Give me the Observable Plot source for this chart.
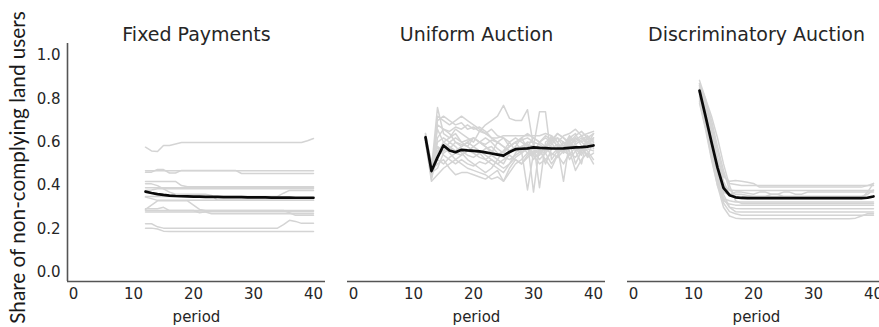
<!DOCTYPE html>
<html>
<head>
<meta charset="utf-8">
<script src="https://cdn.jsdelivr.net/npm/d3@7"></script>
<script src="https://cdn.jsdelivr.net/npm/@observablehq/plot@0.6"></script>
<style>
  body { margin: 0; background: #fff; overflow: hidden; }
  #chart { position: relative; width: 879px; height: 327px; overflow: hidden; background: #fff; }
  #chart svg { position: absolute; top: 0; }
</style>
</head>
<body>
<div id="chart"></div>
<script>
// ---------- data ----------
const panelTitles = ["Fixed Payments", "Uniform Auction", "Discriminatory Auction"];
const xTicks = [0, 10, 20, 30, 40];
const yTicks = [0, 0.2, 0.4, 0.6, 0.8, 1.0];
const xLabel = "period";
const yLabel = "Share of non-complying land users";

const periodsFU = [12,13,14,15,16,17,18,19,20,21,22,23,24,25,26,27,28,29,30,31,32,33,34,35,36,37,38,39,40];
const periodsD  = [11,12,13,14,15,16,17,18,19,20,21,22,23,24,25,26,27,28,29,30,31,32,33,34,35,36,37,38,39,40];

// Fixed Payments: individual runs
const fixedRuns = [
  [.577,.560,.557,.585,.585,.592,.599,.599,.599,.599,.599,.599,.599,.599,.599,.599,.599,.599,.599,.599,.599,.599,.599,.599,.599,.599,.599,.607,.617],
  [.462,.462,.474,.474,.458,.458,.470,.470,.470,.470,.470,.470,.470,.470,.470,.470,.456,.456,.456,.456,.456,.456,.456,.456,.456,.456,.456,.456,.456],
  [.468,.468,.468,.468,.468,.468,.468,.468,.468,.468,.468,.468,.468,.468,.468,.468,.468,.468,.468,.468,.468,.468,.468,.468,.468,.468,.468,.468,.468],
  [.419,.419,.419,.419,.419,.419,.400,.395,.395,.395,.395,.395,.395,.395,.395,.395,.395,.395,.395,.395,.395,.395,.395,.395,.395,.395,.395,.395,.395],
  [.408,.408,.400,.385,.370,.360,.360,.360,.360,.360,.360,.355,.332,.332,.332,.332,.332,.332,.332,.332,.332,.332,.332,.332,.332,.332,.332,.332,.332],
  [.390,.390,.390,.390,.390,.390,.390,.390,.390,.390,.390,.390,.390,.390,.390,.390,.390,.390,.390,.390,.390,.390,.390,.390,.390,.390,.390,.390,.390],
  [.377,.380,.385,.385,.385,.385,.385,.385,.385,.385,.385,.385,.385,.385,.385,.385,.385,.385,.385,.385,.385,.385,.385,.385,.385,.385,.385,.385,.385],
  [.350,.350,.350,.350,.350,.350,.350,.350,.350,.350,.350,.350,.350,.350,.350,.350,.350,.350,.350,.350,.350,.350,.350,.365,.378,.378,.378,.378,.378],
  [.347,.340,.332,.332,.332,.332,.332,.332,.332,.332,.332,.332,.332,.332,.332,.332,.332,.332,.332,.332,.332,.332,.332,.332,.332,.332,.332,.332,.332],
  [.293,.293,.293,.300,.285,.285,.285,.285,.285,.275,.280,.280,.280,.280,.280,.280,.280,.280,.280,.280,.280,.280,.280,.280,.280,.280,.280,.280,.280],
  [.278,.278,.278,.278,.278,.278,.278,.278,.278,.278,.278,.270,.270,.270,.270,.270,.270,.270,.270,.270,.270,.270,.270,.270,.270,.270,.270,.270,.270],
  [.285,.285,.285,.285,.285,.285,.285,.285,.285,.285,.285,.285,.285,.285,.285,.285,.285,.285,.285,.285,.285,.285,.285,.285,.275,.263,.263,.263,.263],
  [.290,.310,.330,.330,.330,.330,.330,.330,.310,.290,.285,.285,.285,.285,.285,.285,.285,.285,.285,.285,.285,.285,.285,.285,.285,.285,.285,.285,.285],
  [.224,.224,.210,.204,.204,.204,.204,.204,.204,.204,.204,.204,.204,.204,.204,.204,.204,.204,.204,.204,.204,.204,.204,.220,.240,.235,.226,.226,.226],
  [.204,.204,.200,.190,.189,.189,.189,.189,.189,.189,.189,.189,.189,.189,.189,.189,.189,.189,.189,.189,.189,.189,.189,.189,.189,.189,.189,.189,.189]
];
const fixedMean = [.372,.366,.361,.357,.354,.352,.351,.350,.349,.349,.348,.348,.348,.347,.347,.347,.347,.346,.346,.346,.346,.345,.345,.345,.345,.344,.344,.344,.344];

// Uniform Auction: individual runs
const uniformRuns = [
  [.62,.45,.70,.72,.70,.68,.69,.66,.67,.65,.64,.66,.63,.62,.60,.62,.60,.58,.62,.60,.63,.61,.64,.62,.60,.63,.65,.62,.64],
  [.61,.48,.76,.64,.62,.64,.60,.58,.62,.60,.58,.55,.60,.58,.56,.58,.62,.57,.55,.60,.58,.63,.60,.56,.62,.59,.61,.63,.60],
  [.63,.43,.55,.60,.62,.66,.64,.62,.60,.65,.68,.70,.72,.77,.71,.70,.70,.75,.58,.74,.74,.52,.56,.60,.58,.62,.60,.58,.62],
  [.62,.47,.50,.52,.48,.45,.46,.46,.45,.44,.43,.45,.47,.42,.46,.50,.52,.55,.54,.50,.52,.55,.53,.56,.54,.58,.55,.57,.56],
  [.64,.50,.58,.56,.60,.58,.55,.52,.50,.48,.46,.48,.52,.56,.58,.60,.56,.60,.37,.58,.56,.62,.58,.55,.60,.50,.56,.62,.58],
  [.60,.44,.62,.66,.65,.67,.66,.68,.66,.67,.65,.62,.62,.63,.63,.63,.63,.63,.63,.63,.64,.63,.60,.63,.64,.66,.63,.64,.65],
  [.62,.46,.48,.55,.57,.60,.59,.58,.56,.55,.57,.58,.55,.53,.52,.54,.56,.38,.55,.58,.50,.57,.59,.55,.62,.64,.58,.54,.60],
  [.63,.49,.66,.60,.58,.55,.56,.54,.53,.55,.52,.50,.48,.46,.50,.55,.58,.60,.60,.39,.60,.62,.58,.42,.60,.56,.50,.62,.57],
  [.61,.45,.52,.50,.53,.55,.54,.56,.58,.60,.62,.60,.57,.55,.58,.60,.62,.64,.62,.60,.62,.60,.64,.62,.59,.61,.63,.60,.62],
  [.62,.51,.56,.58,.55,.52,.50,.48,.47,.46,.45,.43,.44,.42,.48,.52,.50,.54,.56,.52,.55,.50,.54,.58,.56,.47,.52,.55,.50],
  [.63,.47,.60,.62,.60,.62,.60,.61,.62,.60,.59,.61,.60,.62,.58,.60,.61,.62,.60,.59,.57,.61,.62,.58,.63,.60,.62,.59,.64],
  [.60,.42,.45,.48,.50,.52,.54,.56,.55,.53,.52,.54,.52,.50,.55,.57,.55,.58,.52,.55,.58,.54,.57,.60,.52,.56,.58,.53,.55],
  [.62,.46,.68,.66,.64,.60,.58,.60,.62,.60,.58,.56,.54,.56,.60,.56,.58,.55,.57,.54,.58,.60,.55,.58,.61,.57,.54,.60,.58],
  [.64,.44,.72,.70,.68,.70,.72,.70,.68,.66,.64,.62,.60,.58,.56,.57,.58,.59,.58,.56,.55,.58,.56,.60,.57,.59,.56,.58,.59],
  [.61,.50,.54,.56,.58,.56,.58,.60,.58,.56,.54,.52,.50,.52,.54,.52,.50,.53,.55,.56,.52,.48,.54,.50,.55,.53,.57,.56,.52],
  [.62,.48,.58,.54,.52,.50,.52,.50,.49,.51,.50,.52,.50,.48,.50,.53,.55,.57,.54,.58,.56,.59,.62,.60,.58,.62,.60,.62,.61]
];
const uniformMean = [.623,.467,.530,.585,.562,.554,.565,.562,.560,.558,.553,.548,.543,.538,.555,.568,.570,.572,.576,.574,.573,.571,.571,.572,.574,.576,.577,.580,.585];

// Discriminatory Auction: individual runs
const discrimRuns = [
  [.885,.80,.68,.56,.45,.41,.405,.40,.40,.40,.40,.40,.40,.40,.40,.40,.40,.40,.40,.40,.40,.40,.40,.40,.40,.40,.40,.40,.40,.40],
  [.86,.78,.66,.53,.44,.42,.424,.42,.415,.41,.393,.393,.393,.393,.393,.393,.393,.393,.393,.393,.393,.393,.393,.393,.393,.393,.393,.393,.40,.41],
  [.84,.74,.62,.50,.40,.38,.378,.378,.378,.378,.378,.378,.378,.378,.378,.378,.378,.378,.378,.378,.378,.378,.378,.378,.378,.378,.378,.378,.378,.378],
  [.82,.70,.57,.45,.37,.355,.35,.35,.35,.35,.35,.35,.35,.35,.35,.35,.35,.35,.35,.35,.35,.35,.35,.35,.35,.35,.35,.35,.35,.35],
  [.87,.79,.70,.58,.47,.38,.36,.36,.355,.35,.35,.35,.36,.36,.35,.35,.35,.35,.35,.35,.35,.35,.35,.35,.35,.35,.35,.35,.36,.38],
  [.80,.68,.55,.42,.34,.33,.324,.324,.324,.324,.324,.324,.324,.324,.324,.324,.324,.324,.324,.324,.324,.324,.324,.324,.324,.324,.324,.324,.324,.324],
  [.78,.66,.52,.40,.33,.315,.31,.309,.309,.309,.309,.309,.309,.309,.309,.309,.309,.309,.309,.309,.309,.309,.309,.309,.309,.309,.309,.309,.309,.309],
  [.83,.72,.58,.44,.34,.30,.295,.293,.293,.293,.293,.293,.293,.293,.293,.293,.293,.293,.293,.293,.293,.293,.293,.293,.293,.293,.293,.293,.293,.293],
  [.85,.75,.62,.48,.36,.30,.28,.278,.278,.278,.278,.278,.278,.278,.278,.278,.278,.278,.278,.278,.278,.278,.278,.278,.278,.278,.278,.278,.278,.278],
  [.81,.70,.56,.42,.32,.28,.27,.263,.263,.263,.263,.263,.263,.263,.263,.263,.263,.263,.263,.263,.263,.263,.263,.263,.263,.263,.263,.263,.263,.263],
  [.79,.67,.53,.40,.30,.26,.25,.247,.247,.247,.247,.247,.247,.247,.247,.247,.247,.247,.247,.247,.247,.247,.247,.247,.247,.247,.25,.26,.27,.27],
  [.86,.77,.65,.52,.42,.36,.345,.34,.34,.34,.34,.34,.34,.34,.34,.34,.34,.34,.34,.34,.34,.34,.34,.34,.34,.34,.34,.34,.37,.41],
  [.83,.73,.60,.47,.38,.36,.37,.37,.365,.36,.37,.37,.36,.36,.37,.37,.36,.36,.37,.37,.37,.37,.37,.37,.37,.37,.37,.37,.37,.37],
  [.87,.80,.72,.62,.50,.40,.33,.318,.318,.318,.318,.318,.318,.318,.318,.318,.318,.318,.318,.318,.318,.318,.318,.318,.318,.318,.318,.318,.318,.318]
];
const discrimMean = [.838,.720,.600,.483,.390,.356,.346,.343,.342,.342,.342,.342,.342,.342,.342,.342,.342,.342,.342,.342,.342,.342,.342,.342,.342,.342,.342,.342,.344,.350];

// ---------- drawing ----------
const xDomain = [-1, 42];
const yDomain = [-0.042, 1.055];
const H = 327, MT = 43, MB = 46;

// fit the y label to the length it has in the reference (~313px)
const yLabelFont = "Lato";
const yLabelSize = (() => {
  const ctx = document.createElement("canvas").getContext("2d");
  ctx.font = `20px ${yLabelFont}`;
  const w = ctx.measureText(yLabel).width || 300;
  return Math.max(16, Math.min(24, 20 * 313 / w));
})();

function panel({k, left, width, marginLeft, runs, mean, periods, showY}) {
  const rows = runs.flatMap((r, i) => r.map((v, j) => ({run: i, period: periods[j], value: v})));
  const meanRows = mean.map((v, j) => ({period: periods[j], value: v}));
  const marks = [
    Plot.line(rows, {x: "period", y: "value", z: "run", stroke: "#d4d4d4", strokeWidth: 1.5}),
    Plot.line(meanRows, {x: "period", y: "value", stroke: "#0a0a0a", strokeWidth: 2.7}),
    Plot.ruleY([yDomain[0]], {stroke: "#555", strokeWidth: 1.6}),
    Plot.text([xLabel], {frameAnchor: "bottom", dy: 40, fontSize: 15, fill: "#262626"}),
    Plot.text([panelTitles[k]], {frameAnchor: "top", dy: -16, fontSize: 19, fill: "#262626"})
  ];
  if (showY) {
    marks.push(Plot.ruleX([xDomain[0]], {stroke: "#555", strokeWidth: 1.6}));
    marks.push(Plot.text([yLabel], {frameAnchor: "left", textAnchor: "middle", lineAnchor: "middle",
      rotate: -90, dx: -49, dy: 5, fontSize: yLabelSize, fontFamily: yLabelFont, fill: "#1a1a1a"}));
  }
  const svg = Plot.plot({
    width, height: H,
    marginLeft, marginRight: 6, marginTop: MT, marginBottom: MB,
    style: {fontSize: "15px", fontFamily: "DejaVu Sans", color: "#262626", background: "transparent", overflow: "visible"},
    x: {domain: xDomain, ticks: xTicks, tickSize: 0, tickPadding: 7, label: null, tickFormat: d => String(d)},
    y: {domain: yDomain, ticks: yTicks, tickSize: 0, tickPadding: 7, label: null,
        tickFormat: d3.format(".1f"), axis: showY ? "left" : null},
    marks
  });
  svg.style.left = left + "px";
  document.getElementById("chart").appendChild(svg);
}

panel({k: 0, left: 0,   width: 331, marginLeft: 67, runs: fixedRuns,   mean: fixedMean,   periods: periodsFU, showY: true});
panel({k: 1, left: 331, width: 280, marginLeft: 16, runs: uniformRuns, mean: uniformMean, periods: periodsFU, showY: false});
panel({k: 2, left: 611, width: 280, marginLeft: 16, runs: discrimRuns, mean: discrimMean, periods: periodsD,  showY: false});
</script>
</body>
</html>
